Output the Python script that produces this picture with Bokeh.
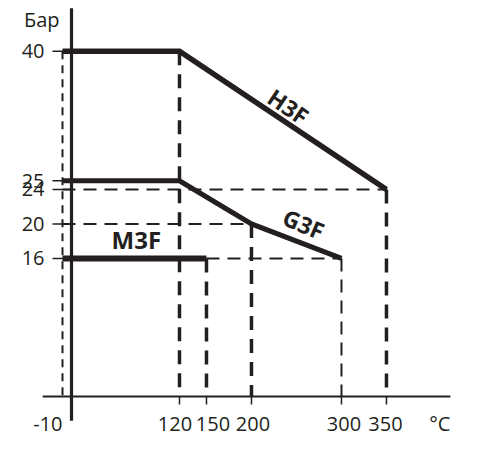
import numpy as np
from bokeh.plotting import figure
from bokeh.models import Range1d
from bokeh.core.properties import value
from bokeh.embed import file_html
from bokeh.resources import INLINE

# ---- data ----
t_ticks = [-10, 120, 150, 200, 300, 350]
t_labels = ["-10", "120", "150", "200", "300", "350"]
t_label_shift = [0, -4.5, 6.5, 1.5, 2.5, -1]   # label nudges (screen px) to avoid overlap
p_ticks = [40, 25, 24, 20, 16]
p_labels = ["40", "25", "24", "20", "16"]

h3f_t = [-10, 120, 350]
h3f_p = [40, 40, 24]
g3f_t = [-10, 120, 200, 300]
g3f_p = [25, 25, 20, 16]
m3f_t = [-10, 150]
m3f_p = [16, 16]

unit_y = "Бар"
unit_x = "°C"

INK = "#231f20"
FONT = value("Open Sans")

p = figure(width=472, height=441,
           x_range=Range1d(-78.9, 445.6), y_range=Range1d(-5.21, 45.89),
           output_backend="svg", toolbar_location=None,
           x_axis_type=None, y_axis_type=None,
           min_border=0, outline_line_color=None)
p.grid.visible = False
p.background_fill_color = "white"
p.border_fill_color = "white"

# ---- dashed guide lines ----
vx = [h3f_t[1], m3f_t[1], g3f_t[2], h3f_t[2]]
vy = [h3f_p[1], m3f_p[1], g3f_p[2], h3f_p[2]]
p.segment(x0=vx, y0=vy, x1=vx, y1=[0] * len(vx),
          line_color=INK, line_width=3.5, line_dash="14 9")
p.segment(x0=[h3f_t[0]], y0=[h3f_p[0]], x1=[h3f_t[0]], y1=[0],
          line_color=INK, line_width=2, line_dash="8 6")
p.segment(x0=[g3f_t[3]], y0=[g3f_p[3]], x1=[g3f_t[3]], y1=[0],
          line_color=INK, line_width=2, line_dash="13 8")
p.segment(x0=[h3f_t[0], g3f_t[0], m3f_t[1]],
          y0=[h3f_p[2], g3f_p[2], m3f_p[1]],
          x1=[h3f_t[2], g3f_t[2], g3f_t[3]],
          y1=[h3f_p[2], g3f_p[2], g3f_p[3]],
          line_color=INK, line_width=2, line_dash="13 8")

# ---- axes lines ----
x_axis_start, x_axis_end = -32, 421
y_axis_bottom, y_axis_top = -2.8, 45
p.segment(x0=[x_axis_start], y0=[0], x1=[x_axis_end], y1=[0], line_color=INK, line_width=2)
p.segment(x0=[0], y0=[y_axis_bottom], x1=[0], y1=[y_axis_top], line_color=INK, line_width=3.2)

# ticks
p.ray(x=[0] * len(p_ticks), y=p_ticks, length=19, length_units="screen",
      angle=np.pi, line_color=INK, line_width=1.5)
p.ray(x=t_ticks[1:], y=[0] * (len(t_ticks) - 1), length=8, length_units="screen",
      angle=-np.pi / 2, line_color=INK, line_width=1.5)

# ---- curves ----
p.line(h3f_t, h3f_p, line_color=INK, line_width=5.5, line_join="miter")
p.line(g3f_t, g3f_p, line_color=INK, line_width=5, line_join="miter")
p.line(m3f_t, m3f_p, line_color=INK, line_width=6, line_join="miter")

# ---- tick labels ----
p.text(x=[0] * len(p_ticks), y=p_ticks, text=p_labels, x_offset=-27,
       text_align="right", text_baseline="middle", text_font=FONT,
       text_font_size="20px", text_color=INK)
p.text(x=t_ticks[1:], y=[0] * (len(t_ticks) - 1), text=t_labels[1:],
       x_offset=t_label_shift[1:], y_offset=27,
       text_align="center", text_baseline="middle", text_font=FONT,
       text_font_size="20px", text_color=INK)
p.text(x=[t_ticks[0]], y=[0], text=[t_labels[0]], y_offset=27,
       text_align="right", text_baseline="middle", text_font=FONT,
       text_font_size="20px", text_color=INK)
p.text(x=[0], y=[p_ticks[0]], text=[unit_y], x_offset=-12, y_offset=-32,
       text_align="right", text_baseline="middle", text_font=FONT,
       text_font_size="20px", text_color=INK)
p.text(x=[x_axis_end], y=[0], text=[unit_x], y_offset=27,
       text_align="right", text_baseline="middle", text_font=FONT,
       text_font_size="20px", text_color=INK)

# ---- curve names ----
p.text(x=[241], y=[33.6], text=["H3F"], angle=-0.6,
       text_align="center", text_baseline="middle", text_font=FONT,
       text_font_style="bold", text_font_size="23px", text_color=INK)
p.text(x=[258], y=[20.0], text=["G3F"], angle=-0.4,
       text_align="center", text_baseline="middle", text_font=FONT,
       text_font_style="bold", text_font_size="23px", text_color=INK)
p.text(x=[72], y=[18.2], text=["M3F"],
       text_align="center", text_baseline="middle", text_font=FONT,
       text_font_style="bold", text_font_size="24px", text_color=INK)

open("out.html", "w").write(file_html(p, INLINE))
